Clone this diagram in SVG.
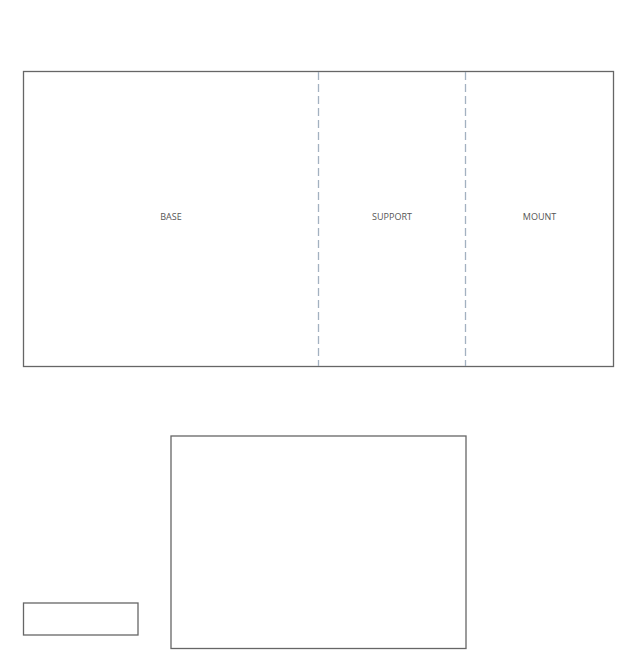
<svg xmlns="http://www.w3.org/2000/svg" width="637" height="660" viewBox="0 0 637 660">
<style>
.box{fill:#fff;stroke:#666;stroke-width:1.3}
.div{stroke:#a3b1c0;stroke-width:1.3;stroke-dasharray:8 4;fill:none}
.lbl{font-family:"Open Sans","Liberation Sans",sans-serif;font-size:9px;fill:#555;text-anchor:middle;dominant-baseline:central}
</style>
<rect width="637" height="660" fill="#fff"/>
<g id="assembly">
<rect class="box" x="23.5" y="71.5" width="590" height="295"/>
</g>
<g id="connectors">
<line class="div" x1="318.5" y1="72" x2="318.5" y2="366"/>
<line class="div" x1="465.5" y1="72" x2="465.5" y2="366"/>
</g>
<g id="base"><text class="lbl" x="171" y="216">BASE</text></g>
<g id="support"><text class="lbl" x="392" y="216">SUPPORT</text></g>
<g id="mount"><text class="lbl" x="539.5" y="216">MOUNT</text></g>
<g id="panel"><rect class="box" x="171" y="436" width="295" height="212.5"/></g>
<g id="small"><rect class="box" x="23.5" y="603" width="114.5" height="32"/></g>
</svg>
